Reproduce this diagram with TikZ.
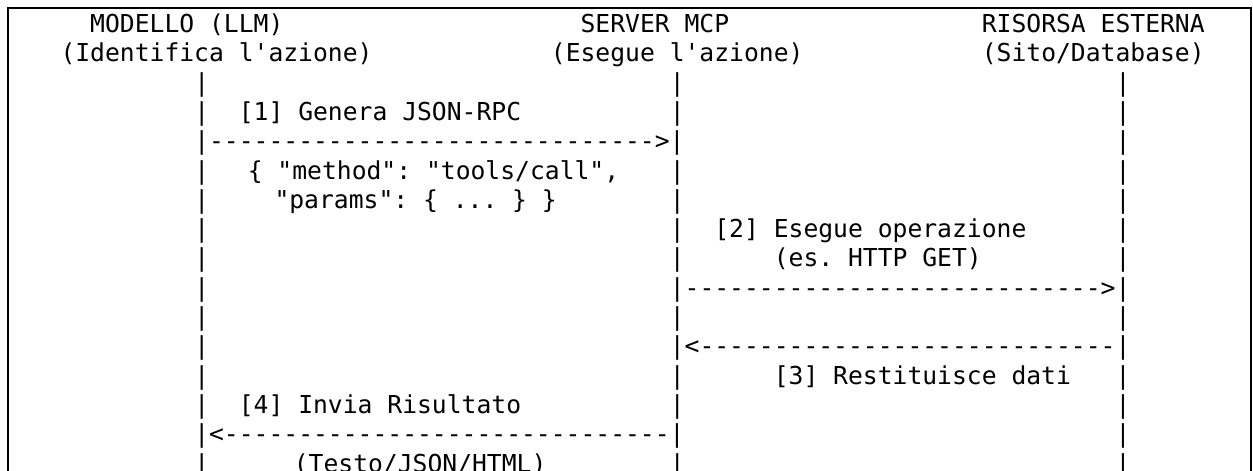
\documentclass[tikz,border=0pt]{standalone}
\usepackage{fontspec}
\setmonofont{DejaVu Sans Mono}
\newcommand\cw{14.86}
\newcommand\xo{30.8}
\newcommand\lh{29.3}
\newcommand\yo{32.5}
\newcommand\T[3]{\node[txt] (r#2c#1) at ({\xo+\cw*#1},{\yo+\lh*#2}) {#3};}
\newcommand\B[2]{\node[txt] (r#2c#1) at ({\xo+\cw*#1},{\yo+\lh*#2}) {|};}
\begin{document}
\begin{tikzpicture}[x=1pt,y=-1pt,
  txt/.style={anchor=base west, inner sep=0pt, outer sep=0pt,
    font=\ttfamily\fontsize{24.68}{29}\selectfont},
  frame/.style={line width=2.5pt, line cap=rect}]
\useasboundingbox (0,0) rectangle (1253,471);
\draw[frame] (8,480) -- (8,8) -- (1251,8) -- (1251,480);
% row 0
\T{4}{0}{MODELLO (LLM)}
\T{37}{0}{SERVER MCP}
\T{64}{0}{RISORSA ESTERNA}
% row 1
\T{2}{1}{(Identifica l'azione)}
\T{35}{1}{(Esegue l'azione)}
\T{64}{1}{(Sito/Database)}
% row 2
\B{11}{2}\B{43}{2}\B{73}{2}
% row 3
\B{11}{3}\T{14}{3}{[1] Genera JSON-RPC}\B{43}{3}\B{73}{3}
% row 4
\T{11}{4}{|------------------------------>|}\B{73}{4}
% row 5
\B{11}{5}\T{14.6}{5}{\{ "method": "tools/call",}\B{43}{5}\B{73}{5}
% row 6
\B{11}{6}\T{16.4}{6}{"params": \{ ... \} \}}\B{43}{6}\B{73}{6}
% row 7
\B{11}{7}\B{43}{7}\T{46}{7}{[2] Esegue operazione}\B{73}{7}
% row 8
\B{11}{8}\B{43}{8}\T{50}{8}{(es. HTTP GET)}\B{73}{8}
% row 9
\B{11}{9}\T{43}{9}{|---------------------------->|}
% row 10
\B{11}{10}\B{43}{10}\B{73}{10}
% row 11
\B{11}{11}\T{43}{11}{|<----------------------------|}
% row 12
\B{11}{12}\B{43}{12}\T{50}{12}{[3] Restituisce dati}\B{73}{12}
% row 13
\B{11}{13}\T{14}{13}{[4] Invia Risultato}\B{43}{13}\B{73}{13}
% row 14
\T{11}{14}{|<------------------------------|}\B{73}{14}
% row 15
\B{11}{15}\T{17.7}{15}{(Testo/JSON/HTML)}\B{43}{15}\B{73}{15}
\end{tikzpicture}
\end{document}
